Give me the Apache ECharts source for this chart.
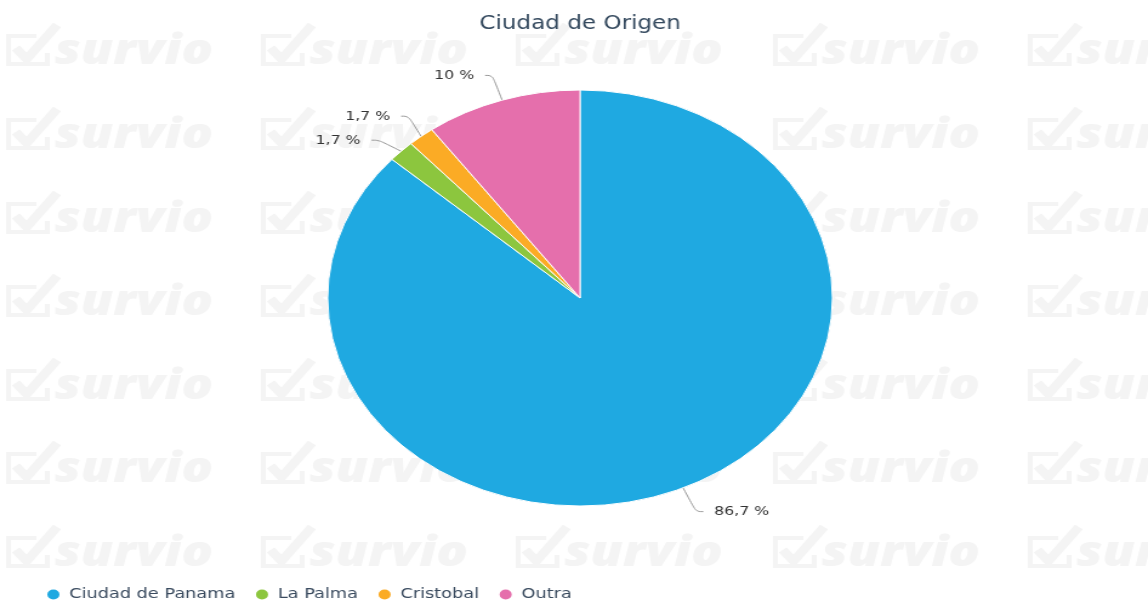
<!DOCTYPE html>
<html>
<head>
<meta charset="utf-8">
<script src="https://cdn.jsdelivr.net/npm/echarts@6/dist/echarts.min.js"></script>
<style>
html,body{margin:0;padding:0;background:#fff;overflow:hidden;}
#wrap{width:1148px;height:602px;overflow:hidden;}
#c{width:946px;height:602px;transform:scaleX(1.2135);transform-origin:0 0;}
</style>
</head>
<body>
<div id="wrap"><div id="c"></div></div>
<script>
const titleText = 'Ciudad de Origen';
const categories = ['Ciudad de Panama', 'La Palma', 'Cristobal', 'Outra'];
const percentages = [86.7, 1.7, 1.7, 10];
const sliceColors = ['#1fa9e1', '#8cc63e', '#fbab25', '#e56fac'];
const watermarkText = 'survio';

const chart = echarts.init(document.getElementById('c'), null, {renderer: 'canvas'});

// faint background watermark
const wm = [];
const colX = [6, 216, 426, 638, 848];
const rowY = [50, 134, 218, 301, 385, 468, 552];
const wmColor = '#f4f4f4';
colX.forEach(X => {
  rowY.forEach(Y => {
    wm.push({type: 'polyline', silent: true, z: 0,
      shape: {points: [[X + 24, Y - 14], [X + 1, Y - 14], [X + 1, Y + 14], [X + 33, Y + 14], [X + 33, Y + 3]]},
      style: {stroke: wmColor, lineWidth: 4, fill: null}});
    wm.push({type: 'polyline', silent: true, z: 0,
      shape: {points: [[X + 7, Y - 2], [X + 16, Y + 9], [X + 41, Y - 25]]},
      style: {stroke: wmColor, lineWidth: 8, fill: null}});
    wm.push({type: 'text', silent: true, z: 0, x: X + 39, y: Y + 2,
      style: {text: watermarkText, fill: wmColor, font: 'italic 800 43px "Open Sans"', verticalAlign: 'middle', align: 'left'}});
  });
});

chart.setOption({
  animation: false,
  backgroundColor: '#ffffff',
  color: sliceColors,
  graphic: wm,
  title: {
    text: titleText,
    left: 473,
    top: 10,
    textAlign: 'center',
    textStyle: {fontFamily: 'DejaVu Sans', fontSize: 19, fontWeight: 'normal', color: '#34495e'}
  },
  legend: {
    data: categories,
    left: 32,
    top: 582,
    icon: 'circle',
    itemWidth: 16,
    itemHeight: 12,
    itemGap: 15,
    textStyle: {fontFamily: 'DejaVu Sans', fontSize: 14.6, color: '#3a4b5f'}
  },
  series: [{
    type: 'pie',
    center: [478, 298],
    radius: [0, 208],
    startAngle: 90,
    clockwise: true,
    avoidLabelOverlap: true,
    emphasis: {disabled: true},
    itemStyle: {borderColor: '#ffffff', borderWidth: 1},
    label: {
      show: true,
      formatter: p => String(percentages[p.dataIndex]).replace('.', ',') + ' %',
      fontFamily: 'DejaVu Sans',
      fontSize: 13,
      lineHeight: 22,
      color: '#333333',
      distanceToLabelLine: 9
    },
    labelLine: {
      show: true,
      length: 26,
      length2: 6,
      smooth: 0.4,
      lineStyle: {color: '#999999', width: 1}
    },
    data: categories.map((c, i) => ({name: c, value: percentages[i]}))
  }]
});
</script>
</body>
</html>
